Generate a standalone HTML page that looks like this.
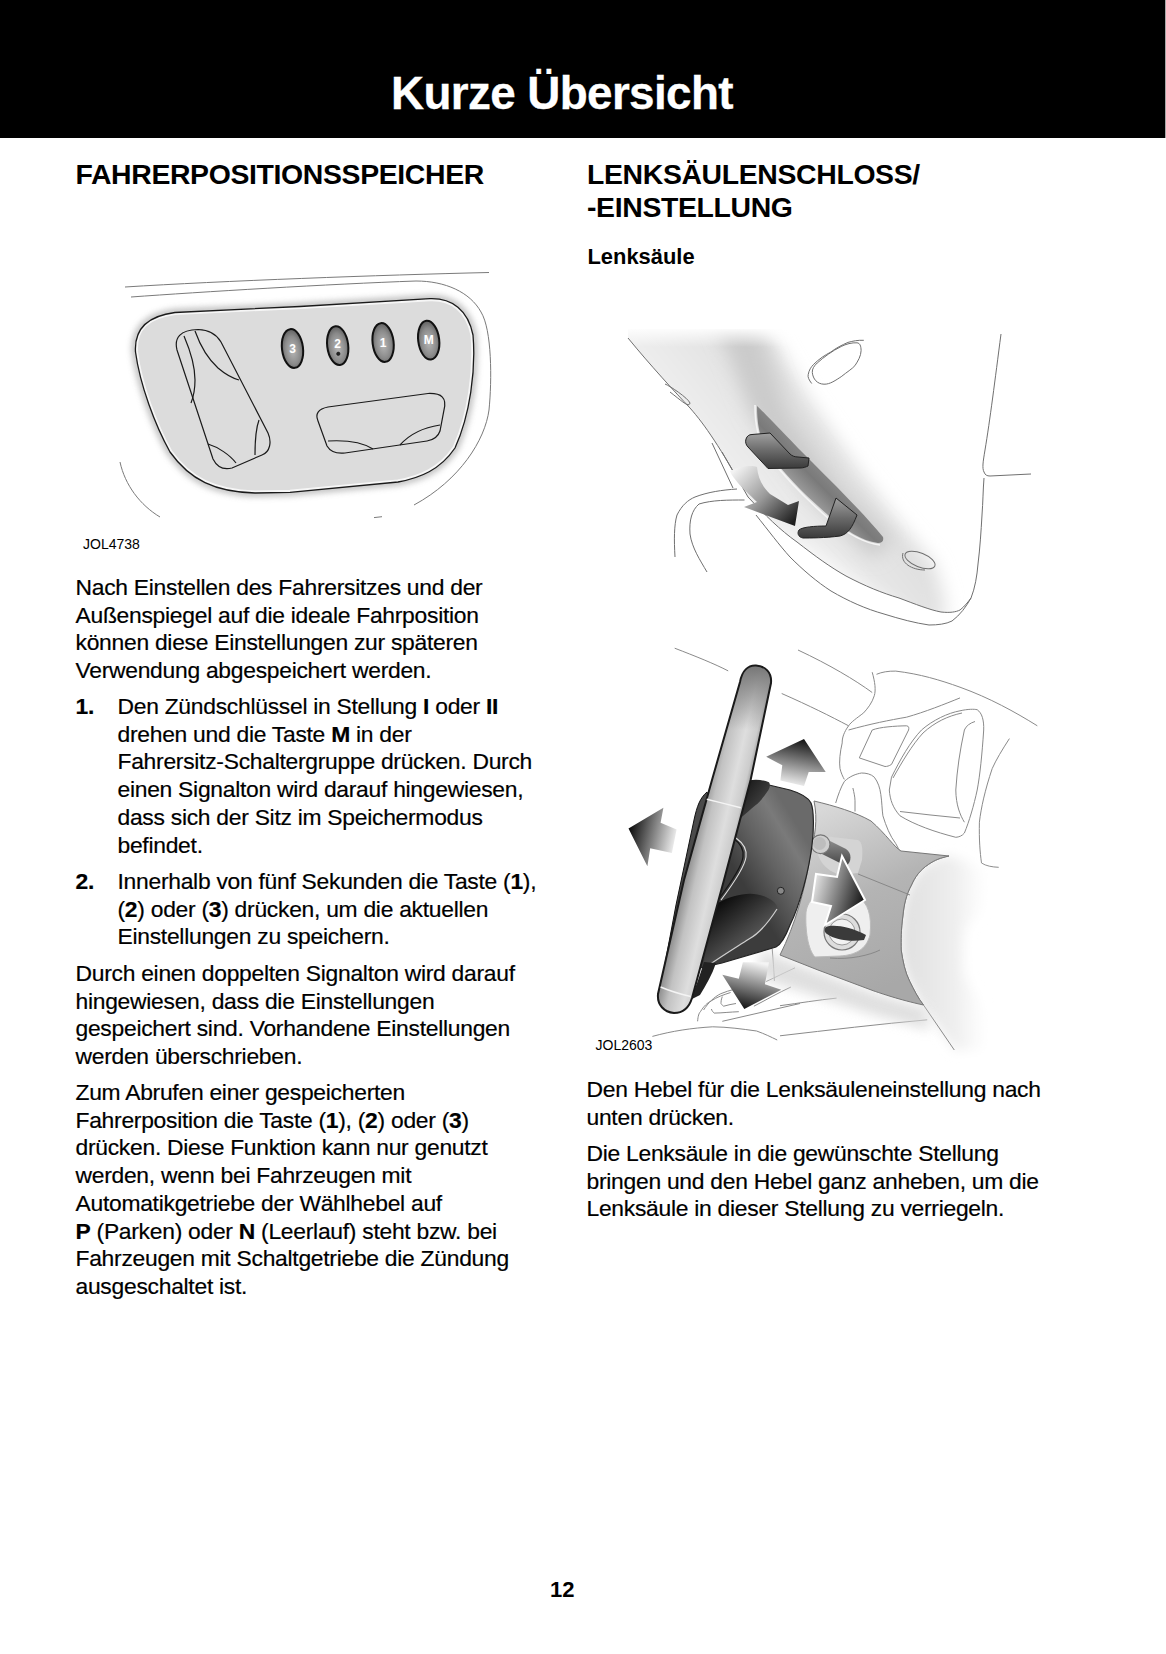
<!DOCTYPE html>
<html lang="de">
<head>
<meta charset="utf-8">
<title>Kurze Übersicht</title>
<style>
html,body{margin:0;padding:0;background:#fff;}
body{width:1166px;height:1654px;position:relative;overflow:hidden;font-family:"Liberation Sans",sans-serif;color:#000;}
.bar{position:absolute;left:0;top:0;width:1165px;height:138px;background:#000;}
.title{position:absolute;left:0;top:0;color:#fff;font-weight:700;font-size:45.8px;line-height:46px;letter-spacing:-0.62px;white-space:nowrap;-webkit-text-stroke:0.3px #fff;}
.h{position:absolute;font-weight:700;font-size:28.4px;line-height:33px;letter-spacing:-0.35px;white-space:nowrap;}
.sub{position:absolute;font-weight:700;font-size:21.9px;line-height:22px;white-space:nowrap;}
.p{position:absolute;font-size:22.85px;line-height:27.7px;letter-spacing:-0.27px;white-space:nowrap;-webkit-text-stroke:0.2px #000;}
.lbl{position:absolute;font-size:14px;line-height:14px;white-space:nowrap;}
.num{position:absolute;font-weight:700;font-size:22px;line-height:22px;}
b{font-weight:700;}
svg.art{position:absolute;left:0;top:0;}
</style>
</head>
<body>
<div class="bar"></div><div style="position:absolute;left:1165px;top:0;width:1px;height:138px;background:#a8a8a8"></div>
<svg class="art" width="1166" height="1654" viewBox="0 0 1166 1654">
<defs>
<filter id="blur3" x="-20%" y="-20%" width="140%" height="140%"><feGaussianBlur stdDeviation="3"/></filter>
<radialGradient id="btn" cx="0.5" cy="0.55" r="0.6"><stop offset="0" stop-color="#b8b8b8"/><stop offset="0.6" stop-color="#8a8a8a"/><stop offset="1" stop-color="#555"/></radialGradient>
</defs>
<!-- seat switch pack -->
<g fill="none" stroke="#7a7a7a" stroke-width="1">
<path d="M125,287 C220,281 380,275 489,272.5"/>
<path d="M131,297 C200,292 330,284 416,281 C445,281 470,292 481,312 C492,330 492,380 489,410 C485,440 460,480 414,505"/>
<path d="M120,462 C125,485 140,505 160,517"/>
<path d="M374,517.6 L382,516.7"/>
</g>
<path d="M135.5,352 C134,328 148,316 175,312.5 L300,306.5 L430,298.7 C452,298 468,310 473,335 C476,370 470,415 455,448 C440,470 420,478 398,482 L290,492.3 L255,493 C215,492 190,480 170,452 C155,425 140,385 135.5,352 Z" fill="none" stroke="#aaa" stroke-width="7" filter="url(#blur3)" opacity="0.8"/>
<clipPath id="panelclip"><path d="M135.5,352 C134,328 148,316 175,312.5 L300,306.5 L430,298.7 C452,298 468,310 473,335 C476,370 470,415 455,448 C440,470 420,478 398,482 L290,492.3 L255,493 C215,492 190,480 170,452 C155,425 140,385 135.5,352 Z"/></clipPath><path d="M135.5,352 C134,328 148,316 175,312.5 L300,306.5 L430,298.7 C452,298 468,310 473,335 C476,370 470,415 455,448 C440,470 420,478 398,482 L290,492.3 L255,493 C215,492 190,480 170,452 C155,425 140,385 135.5,352 Z" fill="#dcdcdc"/><path d="M135.5,352 C134,328 148,316 175,312.5 L300,306.5 L430,298.7 C452,298 468,310 473,335 C476,370 470,415 455,448 C440,470 420,478 398,482 L290,492.3 L255,493 C215,492 190,480 170,452 C155,425 140,385 135.5,352 Z" fill="none" stroke="#f6f6f6" stroke-width="5" clip-path="url(#panelclip)"/><path d="M135.5,352 C134,328 148,316 175,312.5 L300,306.5 L430,298.7 C452,298 468,310 473,335 C476,370 470,415 455,448 C440,470 420,478 398,482 L290,492.3 L255,493 C215,492 190,480 170,452 C155,425 140,385 135.5,352 Z" fill="none" stroke="#1a1a1a" stroke-width="1.3"/>
<g fill="none" stroke="#1a1a1a" stroke-width="1.2">
<path d="M177,350 C174,338 180,330 198,329.5 C210,330 217,335 221,342 L268,433 C272,442 270,452 262,455 L232,468 C224,470 217,467 213,459 Z"/>
<path d="M184,336 C190,350 195,365 195,380 C195,390 193,398 191,403"/>
<path d="M195,331 C200,345 207,358 218,368 C225,374 232,378 239,380"/>
<path d="M208,444 C218,447 230,455 236,463"/>
<path d="M259,420 C256,428 255,440 255,455"/>
<path d="M318,421 C315,414 318,409 328,407 L428,393.5 C442,393 447,398 444,410 L440,431 C438,437 433,440 427,441 L345,453 C336,454 330,451 327,446 Z"/>
<path d="M328,441 C345,440 362,442 373,449"/>
<path d="M400,445 C408,436 420,428 440,425"/>
</g>
<g stroke="#111" stroke-width="2" fill="url(#btn)">
<ellipse cx="292.5" cy="348.5" rx="10.5" ry="19.5" transform="rotate(-7 292.5 348.5)"/>
<ellipse cx="337.7" cy="345.6" rx="10.5" ry="19.5" transform="rotate(-7 337.7 345.6)"/>
<ellipse cx="383.1" cy="342.5" rx="10.5" ry="19.5" transform="rotate(-7 383.1 342.5)"/>
<ellipse cx="428.7" cy="340.2" rx="10.5" ry="19.5" transform="rotate(-7 428.7 340.2)"/>
</g>
<g fill="#fff" font-family="Liberation Sans" font-weight="700" font-size="12" text-anchor="middle">
<text x="292.5" y="352.5">3</text>
<text x="337.7" y="348">2</text>
<text x="383.1" y="346.5">1</text>
<text x="428.7" y="344">M</text>
</g>
<circle cx="338.3" cy="353.8" r="1.7" fill="#222" stroke="#111" stroke-width="0.6"/>
</svg>
<svg class="art" width="1166" height="1654" viewBox="0 0 1166 1654">
<defs>
<linearGradient id="band" gradientUnits="userSpaceOnUse" x1="706" y1="432" x2="788" y2="375">
<stop offset="0" stop-color="#efefef"/><stop offset="0.45" stop-color="#e0e0e0"/><stop offset="0.72" stop-color="#d3d3d3"/><stop offset="0.88" stop-color="#ebebeb"/><stop offset="1" stop-color="#ffffff"/></linearGradient>
<linearGradient id="bandlow" gradientUnits="userSpaceOnUse" x1="0" y1="440" x2="0" y2="610"><stop offset="0" stop-color="#fff" stop-opacity="0"/><stop offset="1" stop-color="#fff" stop-opacity="0.8"/></linearGradient>
<linearGradient id="bandbase" gradientUnits="userSpaceOnUse" x1="650" y1="420" x2="750" y2="340"><stop offset="0" stop-color="#f3f3f3"/><stop offset="1" stop-color="#dedede"/></linearGradient>
<linearGradient id="bandfade" x1="0" y1="0" x2="0" y2="1"><stop offset="0" stop-color="#fff"/><stop offset="1" stop-color="#fff" stop-opacity="0"/></linearGradient>
<linearGradient id="slot" gradientUnits="userSpaceOnUse" x1="790" y1="480" x2="815" y2="455"><stop offset="0" stop-color="#9a9a9a"/><stop offset="0.5" stop-color="#7a7a7a"/><stop offset="1" stop-color="#8a8a8a"/></linearGradient>
<linearGradient id="lev" x1="0" y1="0" x2="0" y2="1"><stop offset="0" stop-color="#a0a0a0"/><stop offset="0.5" stop-color="#6a6a6a"/><stop offset="1" stop-color="#3a3a3a"/></linearGradient>
<linearGradient id="arr1" gradientUnits="userSpaceOnUse" x1="735" y1="470" x2="790" y2="525"><stop offset="0" stop-color="#f2f2f2"/><stop offset="0.5" stop-color="#9a9a9a"/><stop offset="1" stop-color="#1e1e1e"/></linearGradient>
<filter id="b2" x="-20%" y="-20%" width="140%" height="140%"><feGaussianBlur stdDeviation="2"/></filter>
</defs>
<filter id="b8" x="-30%" y="-30%" width="160%" height="160%"><feGaussianBlur stdDeviation="9"/></filter>
<clipPath id="bandclip"><path d="M628,338 C650,365 675,392 690,408 C705,425 720,447 748,497 C765,515 780,530 797,542 C815,556 830,567 846,576 C865,586 882,593 899,598 C915,604 930,610 941,612 C950,613 956,612 960,610 L1000,610 L1000,329 L628,329 Z"/></clipPath>
<g clip-path="url(#bandclip)">
<path d="M590,300 L752,300 L805,394 L858,470 L896,519 L934,564 L945,600 L945,625 L590,625 Z" fill="url(#bandbase)" filter="url(#b8)"/>
<path d="M708,300 L748,300 L788,413 L843,489 L893,540 L872,558 L810,497 L752,415 Z" fill="#cbcbcb" filter="url(#b8)"/>
<path d="M640,560 C700,520 760,510 830,560 C870,590 900,610 920,615 L640,615 Z" fill="#fff" filter="url(#b8)" opacity="0.7"/>
<rect x="600" y="327" width="260" height="20" fill="url(#bandfade)"/>
</g>
<g fill="none" stroke="#707070" stroke-width="1">
<path d="M628,338 C650,365 675,392 690,408 C705,425 720,447 748,497 C765,515 780,530 797,542 C815,556 830,567 846,576 C865,586 882,593 899,598 C915,604 930,610 941,612 C950,613 956,612 960,610 C965,606 968,602 971,598"/>
<path d="M756,515 C768,530 780,546 790,557 C803,570 817,582 831,591 C848,601 866,609 884,614 C900,619 915,623 929,625 C938,625 946,624 952,621 C960,615 966,607 971,598 C975,588 977,576 978,564 C980,548 981,532 982,515 C983,502 983,490 984,478"/>
<path d="M1001,334 C995,380 990,420 985,450 C983,462 982,468 984,472 C985,475 987,476 990,476 L1031,474"/>

<path d="M675,557 C674,540 674,525 677,515 C682,505 688,500 695,497 C708,492 722,490 737,489"/>
<path d="M707,572 C700,560 692,548 690,534 C689,520 692,510 699,504 C712,500 728,500 744.5,500"/>
<path d="M712,443 L733,488"/>
<path d="M722,452 L738,480"/>
<path d="M812.3,372.5 C813,379 817,384 824,384.2 C830,384.5 836,380 841.2,376.7 C847,372 852,369 854.9,365.7 C858,361 861,356 861.1,350.6 C861,346 860,343 857,342.8 C852,342.5 846,344 841.2,346.5 C832,351 824,357 817.2,363 C814,366 812,369 812.3,372.5 Z"/>
<path d="M811.7,383.5 C809,380 807.5,377 808.2,374.6 C809,370 811,367 813.7,364.3 C819,359 825,355 830.9,352 C836,348 842,345 848,342.4 C853,341 858,340 863.8,340.3"/>
<path d="M665,384 C670,386 688,398 690,403 C689,408 683,402 670,392"/>
<ellipse cx="920" cy="560" rx="16" ry="7" transform="rotate(22 920 560)"/>
<path d="M903,553 C900,563 912,570 925,570"/>
</g>
<path d="M757,406 C762,410 790,440 812,462 C840,490 865,515 883,537 C884,541 882,543 878,543 C862,541 845,530 828,515 C805,495 785,475 768,452 C760,440 757,425 757,406 Z" fill="url(#slot)"/>
<path d="M755,405 C755,425 758,440 768,455 C785,478 805,498 828,518 C845,532 862,543 880,545" fill="none" stroke="#f4f4f4" stroke-width="1.6"/>
<path d="M746,439 C747,436 749,434.5 752,434.5 L770,433 L790,454 C792,456 795,457 798,457 L809,458 L808,466 C806,467 803,468 800,468 L768,468.5 L748,447 C746,445 745,442 746,439 Z" fill="url(#lev)" stroke="#222" stroke-width="1"/>
<path d="M799,530 C802,527 815,526 826,526 L836,498 L857,515 C852,528 848,534 840,536 C825,538 810,538 803,538 C798,537 797,533 799,530 Z" fill="url(#lev)" stroke="#222" stroke-width="1"/>
<path d="M730,471 C740,466 752,465 757,467 C758,478 762,486 770,494 L788,505 L799,501 L795,526 L744,507 L757,502 C750,495 742,488 738,483 C735,479 731,475 730,471 Z" fill="url(#arr1)"/>
</svg>
<svg class="art" width="1166" height="1654" viewBox="0 0 1166 1654">
<defs>
<linearGradient id="rim" gradientUnits="userSpaceOnUse" x1="694" y1="836" x2="738" y2="846"><stop offset="0" stop-color="#8c8c8c"/><stop offset="0.25" stop-color="#c2c2c2"/><stop offset="0.6" stop-color="#dedede"/><stop offset="0.85" stop-color="#cccccc"/><stop offset="1" stop-color="#8a8a8a"/></linearGradient><linearGradient id="rimtop" gradientUnits="userSpaceOnUse" x1="0" y1="668" x2="0" y2="730"><stop offset="0" stop-color="#7a7a7a"/><stop offset="1" stop-color="#7a7a7a" stop-opacity="0"/></linearGradient>
<linearGradient id="shroud" gradientUnits="userSpaceOnUse" x1="735" y1="870" x2="800" y2="830"><stop offset="0" stop-color="#3c3c3c"/><stop offset="0.45" stop-color="#626262"/><stop offset="0.8" stop-color="#7a7a7a"/><stop offset="1" stop-color="#6a6a6a"/></linearGradient>
<linearGradient id="cap" x1="0" y1="0" x2="1" y2="1"><stop offset="0" stop-color="#111"/><stop offset="1" stop-color="#555"/></linearGradient>
<linearGradient id="lower" gradientUnits="userSpaceOnUse" x1="720" y1="900" x2="760" y2="950"><stop offset="0" stop-color="#0a0a0a"/><stop offset="0.6" stop-color="#444"/><stop offset="1" stop-color="#666"/></linearGradient>
<linearGradient id="panel" gradientUnits="userSpaceOnUse" x1="800" y1="820" x2="880" y2="990"><stop offset="0" stop-color="#d8d8d8"/><stop offset="0.5" stop-color="#b4b4b4"/><stop offset="1" stop-color="#a8a8a8"/></linearGradient>
<linearGradient id="bolster" gradientUnits="userSpaceOnUse" x1="905" y1="930" x2="985" y2="930"><stop offset="0" stop-color="#e0e0e0"/><stop offset="0.6" stop-color="#eeeeee"/><stop offset="1" stop-color="#ffffff"/></linearGradient>
<linearGradient id="aUp" gradientUnits="userSpaceOnUse" x1="804" y1="739" x2="795" y2="786"><stop offset="0" stop-color="#111"/><stop offset="1" stop-color="#f0f0f0"/></linearGradient>
<linearGradient id="aLeft" gradientUnits="userSpaceOnUse" x1="630" y1="830" x2="676" y2="840"><stop offset="0" stop-color="#111"/><stop offset="1" stop-color="#f0f0f0"/></linearGradient>
<linearGradient id="aDown" gradientUnits="userSpaceOnUse" x1="744" y1="1009" x2="755" y2="962"><stop offset="0" stop-color="#111"/><stop offset="1" stop-color="#f4f4f4"/></linearGradient>
<linearGradient id="aRight" gradientUnits="userSpaceOnUse" x1="812" y1="885" x2="865" y2="900"><stop offset="0" stop-color="#e8e8e8"/><stop offset="1" stop-color="#111"/></linearGradient>
<linearGradient id="stalk" x1="0" y1="0" x2="0" y2="1"><stop offset="0" stop-color="#999"/><stop offset="1" stop-color="#444"/></linearGradient>
</defs>
<!-- background line art -->
<g fill="none" stroke="#8a8a8a" stroke-width="1">
<path d="M674.7,648.2 C695,656 715,664 728.2,670.9"/>
<path d="M798,650 C830,665 855,680 872.2,692.5"/>
<path d="M781.7,693.5 C810,706 830,716 848.6,725.8"/>
<path d="M872.2,672.2 C875,682 876,690 874.3,695.7 C872,703 868,708 863.6,712.9 C857,718 851,722 848.6,725.8 C844,732 842,738 842.2,742.9 C840,752 839,762 840,768.6 C841,773 843,777 844.3,779.4"/>
<path d="M876.5,674.3 C882,672 888,671 895.8,671.1 C920,674 940,680 960,687.2 C990,698 1015,712 1037.3,725.8"/>
<path d="M848.6,730 C870,724 890,720 906.5,717.2 C925,712 945,704 960,697.9"/>
<path d="M859.3,757.9 L872.2,730 C880,727 895,726 906.5,725.8 C909,726 909,728 908.6,730 L891.5,764.4 C889,766 887,766.5 885,766.5 Z"/>
<path d="M891.5,777.2 C900,760 910,742 921.5,730 C933,720 948,713 960,710.8 C968,709 974,709 977.2,709.7 C982,713 984,720 983.7,730 C982,755 980,775 977.2,790 C974,805 969,822 964.4,833 C962,836 959,837 955.8,837.3 C935,832 915,825 900,815.8 C893,808 890,800 889.3,790 Z"/>
<path d="M893,778 C902,762 912,745 923,733 C935,722 948,716 962,713"/>
<path d="M975,721.5 C970,723 966,726 964.4,730 C960,750 957,770 955.8,790 C956,805 960,815 964.4,822.2"/>
<path d="M900,811.5 C920,814 940,816 960,818"/>
<path d="M1009.4,738.6 C1002,750 996,760 992.2,768.6 C985,790 981,808 979.4,822.2 C979,840 980,852 981.5,863 C986,866 992,867 998.7,867.3"/>
<path d="M835.7,803 C838,795 841,787 844.3,781.5 C850,776 856,774 861.5,773 C866,773 871,774 874.3,777.2 C878,782 880,788 880.8,794.4 C882,802 882,810 882.9,815.8 C886,826 890,836 895.8,843.7 C899,850 903,856 906.5,860.8"/>
<path d="M852.9,788 C854,793 855,797 855,800.8 L855,811.5"/>
<path d="M772.2,948.7 C773,960 774,970 774.4,980.8"/>
<path d="M703.6,1010 C708,1003 714,997 720.8,993.7 C730,990 738,988 746.5,987.3"/>
<path d="M697.6,1021.3 C698,1016 699,1013 700.4,1011.7 C704,1006 707,1003 711.4,1000.8 C717,997 723,995 730.6,992.5"/>
<path d="M711.4,1009 C712,1011 713,1012 714.1,1013.1 C722,1013 730,1012 738.8,1011.7"/>
<path d="M722.3,996.6 C721,1000 721,1002 721,1003.5 C722,1005 723,1006 723.7,1006.2 C728,1005 732,1004 736,1003.5"/>
<path d="M722.3,1021.3 L800,1003.5"/>
<path d="M753.9,1006.2 C766,1000 778,993 790.9,987"/>
<path d="M766.2,981.5 C776,977 786,972 795,967.8"/>
<path d="M652.4,1036.4 C672,1031 692,1028 712.7,1026.8 C728,1027 742,1029 756.6,1031 C765,1034 771,1037 777.2,1040"/>
<path d="M780,1005.7 C800,1003 818,1000 836.6,998.1"/>
<path d="M780,1035.8 C830,1030 880,1024 927.2,1019.8"/>
</g>
<!-- bolster -->
<filter id="b10" x="-50%" y="-50%" width="200%" height="200%"><feGaussianBlur stdDeviation="6"/></filter>
<path d="M949,856 C940,858 935,860 928.6,864.3 C920,870 915,877 911.5,885 C906,895 904,905 902.9,916 C901,930 901,940 901.2,950 C903,962 905,972 909.7,981.3 C914,990 918,998 923.5,1005 L954.3,1050 L1000,1050 C990,1030 982,1015 978,1000 C968,985 963,975 963,967.6 C963,950 962,935 966.3,926.3 C975,915 987,905 987,898.8 C987,890 986,880 985.2,874.6 C975,865 960,858 949,856 Z" fill="url(#bolster)" filter="url(#b10)"/>
<path d="M949,856 C940,858 935,860 928.6,864.3 C920,870 915,877 911.5,885 C906,895 904,905 902.9,916 C901,930 901,940 901.2,950 C903,962 905,972 909.7,981.3 C914,990 918,998 923.5,1005 L954.3,1050" fill="none" stroke="#8a8a8a" stroke-width="1"/>
<!-- panel -->
<path d="M760,950 L874,993 L925,1008 L930,1030 L874,1015 L760,978 Z" fill="#d8d8d8" filter="url(#b10)" opacity="0.8"/>
<path d="M814,801 C835,806 855,812 871,821 C886,834 895,848 901,851 L949,856 C940,858 935,860 928.6,864.3 C920,870 915,877 911.5,885 C906,895 904,905 902.9,916 C901,930 901,940 901.2,950 C903,962 905,972 909.7,981.3 C914,990 918,998 923.5,1005 C900,1000 880,993 874,991 L818,970 L780,955 C795,925 805,890 810,857 C815,835 818,820 814,801 Z" fill="url(#panel)" stroke="#777" stroke-width="1"/>
<path d="M858,874 L910,895" stroke="#888" stroke-width="1" fill="none"/>
<path d="M830,958 C850,960 870,955 880,950" stroke="#888" fill="none"/>
<!-- recess around stalk and lock -->
<path d="M815,835 L858,840 C862,842 863,848 862,860 L858,873 L840,875 C825,870 815,860 815,835 Z" fill="#d4d4d4"/>
<path d="M806,912 C808,900 815,893 832,893 L858,897 C868,903 872,915 870,935 C866,950 855,955 840,956 L815,957 C808,950 805,930 806,912 Z" fill="#efefef" stroke="#bbb" stroke-width="1"/>
<circle cx="842" cy="932" r="18" fill="#ddd" stroke="#777" stroke-width="1.2"/>
<circle cx="842" cy="932" r="13" fill="#f2f2f2" stroke="#999" stroke-width="1"/>
<path d="M826,927 C832,924 850,926 866,935 L864,940 C850,942 835,940 827,934 C824,932 824,929 826,927 Z" fill="#3a3a3a"/>
<!-- stalk -->
<path d="M820,836 L846,849 C852,853 852,862 846,866 L822,854 Z" fill="url(#stalk)"/>
<circle cx="820.6" cy="844.3" r="9.4" fill="#cfcfcf" stroke="#777" stroke-width="1.2"/>
<circle cx="819.5" cy="843.5" r="6.5" fill="#bdbdbd"/>
<!-- right arrow -->
<path d="M842,856 L865,900 L825,925 L831,906 L812,902 L816,874 L837,877 Z" fill="url(#aRight)" stroke="#fff" stroke-width="2" stroke-linejoin="miter"/>
<!-- up arrow -->
<path d="M804,739 L825.7,772 L808.7,772 L804,786 L780.4,780.4 L782.3,765.3 L766.2,756.8 Z" fill="url(#aUp)"/>
<!-- left arrow -->
<path d="M628.5,828.5 L663.4,807.7 L660.6,822.8 L676.6,829.4 L671.9,853 L650.2,848.3 L647.4,866.2 Z" fill="url(#aLeft)"/>
<!-- down arrow -->
<path d="M744.3,1009 L722.3,974.7 L738.8,978.8 L742.9,962.3 L769,962.3 L764.9,984.3 L781.3,989.8 Z" fill="url(#aDown)"/>
<!-- shroud body -->
<path d="M769,785 L790,790 C800,793 808,797 811,803 C814,810 814,830 812,845 C809,870 800,905 790,925 C785,938 780,945 776,947 L722,963 L700,968 L712,900 L728,830 L742,790 Z" fill="url(#shroud)" stroke="#222" stroke-width="1.2"/>
<path d="M733,838 C740,843 744,850 743,857 C742,865 733,880 718,900" fill="none" stroke="#151515" stroke-width="1.2"/><path d="M736,838 C743,843 747,850 746,857 C745,865 736,880 721,900" fill="none" stroke="#e0e0e0" stroke-width="1.1"/>
<!-- left strip behind rim -->
<path d="M707,792 C700,798 697,806 694,820 L676,905 L661,985 L668,988 L690,915 L712,810 Z" fill="#4a4a4a" stroke="#111" stroke-width="1"/>
<!-- upper cap -->
<path d="M742.6,782.3 C750,779 762,779 769,782.3 C771,785 769,790 767.2,791.7 C763,798 758,804 755.8,805 C750,810 745,814 740.8,818.1 Z" fill="url(#cap)"/>
<!-- lower shroud piece -->
<path d="M718,903 C728,897 740,894 750,893.7 C760,894 768,897 774,902 C777,905 778,908 777,909 C770,920 760,933 749,939 C735,948 722,956 709,965 L704,962 C708,940 712,920 718,903 Z" fill="url(#lower)"/>
<path d="M777,909 C770,920 760,933 749,939 C735,948 722,956 709,965" fill="none" stroke="#cfcfcf" stroke-width="1.2"/>
<path d="M704,962 C700,975 695,990 690,1000 L700,995 C706,985 712,975 716,963 Z" fill="#222"/>
<circle cx="780.8" cy="890.8" r="3.5" fill="#888" stroke="#222" stroke-width="1"/>
<!-- rim -->
<path d="M740,682 C742,671 748,665 756,665.5 C765,666 772,672 771,683 L750.6,780 L724,880 L692,998 C689,1008 683,1013 674,1013 C664,1012 657,1005 658,994 L684,880 L712,780 Z" fill="url(#rim)"/><path d="M740,682 C742,671 748,665 756,665.5 C765,666 772,672 771,683 L750.6,780 L724,880 L692,998 C689,1008 683,1013 674,1013 C664,1012 657,1005 658,994 L684,880 L712,780 Z" fill="url(#rimtop)"/><path d="M740,682 C742,671 748,665 756,665.5 C765,666 772,672 771,683 L750.6,780 L724,880 L692,998 C689,1008 683,1013 674,1013 C664,1012 657,1005 658,994 L684,880 L712,780 Z" fill="none" stroke="#1a1a1a" stroke-width="2"/>
<path d="M706.8,799.2 C718,802 730,805 740.8,807.7" fill="none" stroke="#f4f4f4" stroke-width="1.5"/>
<path d="M660.6,987 C670,991 680,994 690.8,996.6" fill="none" stroke="#f4f4f4" stroke-width="1.5"/>
</svg>

<div class="title" style="left:391px;top:71px;">Kurze Übersicht</div>

<div class="h" style="left:75.5px;top:158px;">FAHRERPOSITIONSSPEICHER</div>
<div class="h" style="left:587px;top:158px;">LENKSÄULENSCHLOSS/<br>-EINSTELLUNG</div>
<div class="sub" style="left:587.5px;top:246px;">Lenksäule</div>

<div class="lbl" style="left:83px;top:537px;">JOL4738</div>
<div class="lbl" style="left:595.5px;top:1038px;">JOL2603</div>

<div class="p" style="left:75.5px;top:574px;">Nach Einstellen des Fahrersitzes und der<br>Außenspiegel auf die ideale Fahrposition<br>können diese Einstellungen zur späteren<br>Verwendung abgespeichert werden.</div>

<div class="p" style="left:75.5px;top:693px;"><b>1.</b></div>
<div class="p" style="left:117.5px;top:693px;">Den Zündschlüssel in Stellung <b>I</b> oder <b>II</b><br>drehen und die Taste <b>M</b> in der<br>Fahrersitz-Schaltergruppe drücken. Durch<br>einen Signalton wird darauf hingewiesen,<br>dass sich der Sitz im Speichermodus<br>befindet.</div>

<div class="p" style="left:75.5px;top:868px;"><b>2.</b></div>
<div class="p" style="left:117.5px;top:868px;">Innerhalb von fünf Sekunden die Taste (<b>1</b>),<br>(<b>2</b>) oder (<b>3</b>) drücken, um die aktuellen<br>Einstellungen zu speichern.</div>

<div class="p" style="left:75.5px;top:960px;">Durch einen doppelten Signalton wird darauf<br>hingewiesen, dass die Einstellungen<br>gespeichert sind. Vorhandene Einstellungen<br>werden überschrieben.</div>

<div class="p" style="left:75.5px;top:1079px;">Zum Abrufen einer gespeicherten<br>Fahrerposition die Taste (<b>1</b>), (<b>2</b>) oder (<b>3</b>)<br>drücken. Diese Funktion kann nur genutzt<br>werden, wenn bei Fahrzeugen mit<br>Automatikgetriebe der Wählhebel auf<br><b>P</b> (Parken) oder <b>N</b> (Leerlauf) steht bzw. bei<br>Fahrzeugen mit Schaltgetriebe die Zündung<br>ausgeschaltet ist.</div>

<div class="p" style="left:586.5px;top:1076px;">Den Hebel für die Lenksäuleneinstellung nach<br>unten drücken.</div>
<div class="p" style="left:586.5px;top:1140px;">Die Lenksäule in die gewünschte Stellung<br>bringen und den Hebel ganz anheben, um die<br>Lenksäule in dieser Stellung zu verriegeln.</div>

<div class="num" style="left:550px;top:1579px;">12</div>
</body>
</html>
